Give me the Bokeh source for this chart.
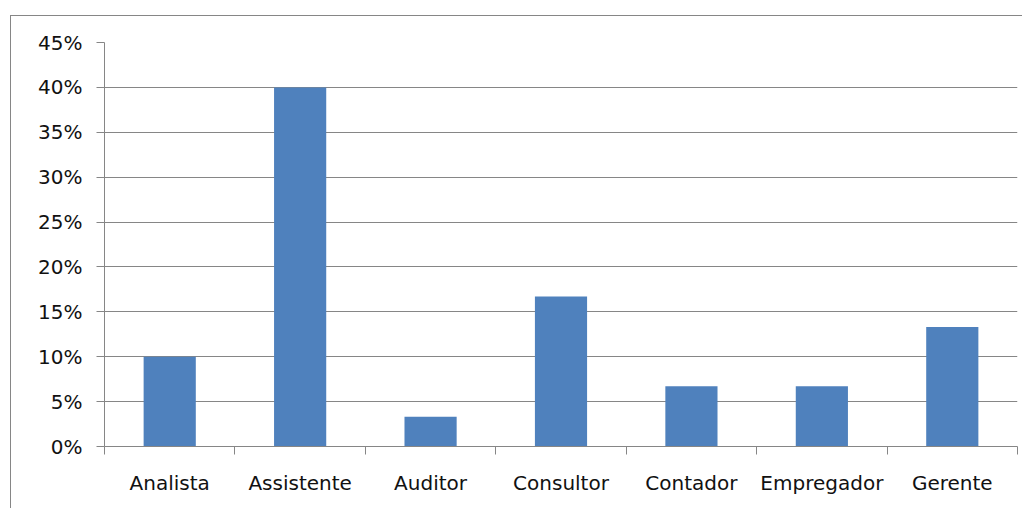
from bokeh.plotting import figure
from bokeh.models import FixedTicker, NumeralTickFormatter, Range1d
from bokeh.embed import file_html
from bokeh.resources import INLINE

categories = ["Analista", "Assistente", "Auditor", "Consultor", "Contador", "Empregador", "Gerente"]
values = [0.10, 0.40, 0.033, 0.167, 0.067, 0.067, 0.133]
y_ticks = [0.0, 0.05, 0.10, 0.15, 0.20, 0.25, 0.30, 0.35, 0.40, 0.45]

FONT = "DejaVu Sans"
GRAY = "#868686"

n = len(categories)
centers = [i + 0.5 for i in range(n)]

p = figure(width=1012, height=493, output_backend="svg", toolbar_location=None,
           x_range=Range1d(0, n), y_range=Range1d(0, 0.45),
           min_border_left=93, min_border_right=6, min_border_top=26, min_border_bottom=63)
p.margin = (15, 0, 0, 10)
p.styles = {"border-top": "1px solid #868686", "border-left": "1px solid #868686"}
p.outline_line_color = None
p.background_fill_color = "white"
p.border_fill_color = "white"

p.vbar(x=centers, top=values, width=0.4, color="#4F81BD", line_color=None)

# y axis
p.yaxis.ticker = FixedTicker(ticks=y_ticks)
p.yaxis.formatter = NumeralTickFormatter(format="0%")
p.yaxis.axis_line_color = GRAY
p.yaxis.major_tick_line_color = GRAY
p.yaxis.major_tick_out = 8
p.yaxis.major_tick_in = 0
p.yaxis.minor_tick_line_color = None
p.yaxis.major_label_standoff = 14
p.yaxis.major_label_text_font = FONT
p.yaxis.major_label_text_font_size = "20px"
p.yaxis.major_label_text_color = "#111111"

# x axis: labels at centers, ticks at boundaries
p.xaxis.ticker = FixedTicker(ticks=centers, minor_ticks=list(range(n + 1)))
p.xaxis.major_label_overrides = {c: cat for c, cat in zip(centers, categories)}
p.xaxis.axis_line_color = GRAY
p.xaxis.major_tick_line_color = None
p.xaxis.major_tick_out = 0
p.xaxis.major_tick_in = 0
p.xaxis.minor_tick_line_color = GRAY
p.xaxis.minor_tick_out = 8
p.xaxis.minor_tick_in = 0
p.xaxis.major_label_standoff = 16
p.xaxis.major_label_text_font = FONT
p.xaxis.major_label_text_font_size = "20px"
p.xaxis.major_label_text_color = "#111111"

# grid
p.xgrid.grid_line_color = None
p.ygrid.ticker = FixedTicker(ticks=y_ticks)
p.ygrid.grid_line_color = GRAY
p.ygrid.grid_line_width = 1

open("out.html", "w").write(file_html(p, INLINE))
